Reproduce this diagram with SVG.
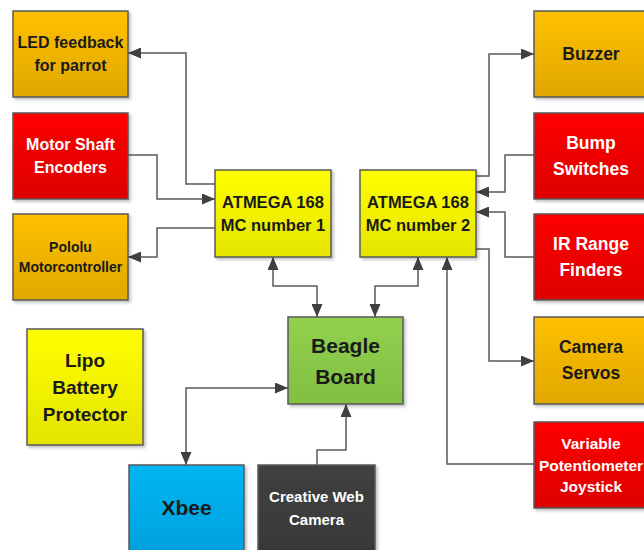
<svg xmlns="http://www.w3.org/2000/svg" width="644" height="550" viewBox="0 0 644 550">
<defs>
<linearGradient id="gOr" x1="0" y1="0" x2="0" y2="1"><stop offset="0" stop-color="#FFC000"/><stop offset="1" stop-color="#E0A800"/></linearGradient>
<linearGradient id="gRd" x1="0" y1="0" x2="0" y2="1"><stop offset="0" stop-color="#FF0000"/><stop offset="1" stop-color="#DD0000"/></linearGradient>
<linearGradient id="gYe" x1="0" y1="0" x2="0" y2="1"><stop offset="0" stop-color="#FFFF00"/><stop offset="1" stop-color="#E4E400"/></linearGradient>
<linearGradient id="gGr" x1="0" y1="0" x2="0" y2="1"><stop offset="0" stop-color="#92D050"/><stop offset="1" stop-color="#80C040"/></linearGradient>
<linearGradient id="gBl" x1="0" y1="0" x2="0" y2="1"><stop offset="0" stop-color="#00B6F2"/><stop offset="1" stop-color="#009FDC"/></linearGradient>
<linearGradient id="gDk" x1="0" y1="0" x2="0" y2="1"><stop offset="0" stop-color="#404040"/><stop offset="1" stop-color="#383838"/></linearGradient>
<marker id="ah" viewBox="0 0 13 11" refX="13" refY="5.5" markerWidth="13" markerHeight="11" markerUnits="userSpaceOnUse" orient="auto-start-reverse">
<path d="M0,0 L13,5.5 L0,11 Z" fill="#404040"/>
</marker>
<filter id="sh" x="-10%" y="-10%" width="130%" height="130%"><feDropShadow dx="2" dy="2" stdDeviation="1.5" flood-color="#000" flood-opacity="0.25"/></filter>
</defs>
<style>
.box{stroke:#595959;stroke-width:1.5;filter:url(#sh)}
.t{font-family:"Liberation Sans",Arial,sans-serif;font-weight:bold;text-anchor:middle}
.dk{fill:#1a1a1a}
.wh{fill:#ffffff}
.c{fill:none;stroke:#5a5a5a;stroke-width:1.5}
</style>
<g id="connectors">
<polyline class="c" points="215,184 186,184 186,53 128,53" marker-end="url(#ah)"/>
<polyline class="c" points="128,155 157,155 157,199 215,199" marker-end="url(#ah)"/>
<polyline class="c" points="215,228 157,228 157,257 128,257" marker-end="url(#ah)"/>
<polyline class="c" points="273,257 273,286 317,286 317,317" marker-start="url(#ah)" marker-end="url(#ah)"/>
<polyline class="c" points="418,257 418,286 375,286 375,317" marker-start="url(#ah)" marker-end="url(#ah)"/>
<polyline class="c" points="534,464 447,464 447,257" marker-end="url(#ah)"/>
<polyline class="c" points="476,176 489,176 489,54 534,54" marker-end="url(#ah)"/>
<polyline class="c" points="534,155 505,155 505,192 476,192" marker-end="url(#ah)"/>
<polyline class="c" points="534,257 505,257 505,212 476,212" marker-end="url(#ah)"/>
<polyline class="c" points="476,249 489,249 489,361 534,361" marker-end="url(#ah)"/>
<polyline class="c" points="288,388 186,388 186,465" marker-start="url(#ah)" marker-end="url(#ah)"/>
<polyline class="c" points="317,465 317,450 346,450 346,404" marker-end="url(#ah)"/>
</g>
<g id="led">
<rect class="box" x="13" y="11" width="115" height="86" fill="url(#gOr)"/>
<text class="t dk" x="70.5" y="48" font-size="16">LED feedback</text>
<text class="t dk" x="70.5" y="71" font-size="16">for parrot</text>
</g>
<g id="motor">
<rect class="box" x="13" y="113" width="115" height="86" fill="url(#gRd)"/>
<text class="t wh" x="70.5" y="150" font-size="16">Motor Shaft</text>
<text class="t wh" x="70.5" y="173" font-size="16">Encoders</text>
</g>
<g id="pololu">
<rect class="box" x="13" y="214" width="115" height="86" fill="url(#gOr)"/>
<text class="t dk" x="70.5" y="252" font-size="14">Pololu</text>
<text class="t dk" x="70.5" y="272" font-size="14">Motorcontroller</text>
</g>
<g id="lipo">
<rect class="box" x="27" y="329" width="116" height="116" fill="url(#gYe)"/>
<text class="t dk" x="85" y="367" font-size="19">Lipo</text>
<text class="t dk" x="85" y="394" font-size="19">Battery</text>
<text class="t dk" x="85" y="421" font-size="19">Protector</text>
</g>
<g id="atmega1">
<rect class="box" x="215" y="170" width="116" height="87" fill="url(#gYe)"/>
<text class="t dk" x="273" y="208" font-size="16.5">ATMEGA 168</text>
<text class="t dk" x="273" y="231" font-size="16.5">MC number 1</text>
</g>
<g id="atmega2">
<rect class="box" x="360" y="170" width="116" height="87" fill="url(#gYe)"/>
<text class="t dk" x="418" y="208" font-size="16.5">ATMEGA 168</text>
<text class="t dk" x="418" y="231" font-size="16.5">MC number 2</text>
</g>
<g id="beagle">
<rect class="box" x="288" y="317" width="115" height="87" fill="url(#gGr)"/>
<text class="t dk" x="345.5" y="353" font-size="21">Beagle</text>
<text class="t dk" x="345.5" y="384" font-size="21">Board</text>
</g>
<g id="xbee">
<rect class="box" x="129" y="465" width="115" height="95" fill="url(#gBl)"/>
<text class="t dk" x="186.5" y="515" font-size="21">Xbee</text>
</g>
<g id="webcam">
<rect class="box" x="258" y="465" width="117" height="95" fill="url(#gDk)"/>
<text class="t wh" x="316.5" y="502" font-size="15">Creative Web</text>
<text class="t wh" x="316.5" y="525" font-size="15">Camera</text>
</g>
<g id="buzzer">
<rect class="box" x="534" y="11" width="116" height="86" fill="url(#gOr)"/>
<text class="t dk" x="591" y="60" font-size="17.5">Buzzer</text>
</g>
<g id="bump">
<rect class="box" x="534" y="113" width="116" height="86" fill="url(#gRd)"/>
<text class="t wh" x="591" y="149" font-size="17.5">Bump</text>
<text class="t wh" x="591" y="175" font-size="17.5">Switches</text>
</g>
<g id="ir">
<rect class="box" x="534" y="214" width="116" height="86" fill="url(#gRd)"/>
<text class="t wh" x="591" y="250" font-size="17.5">IR Range</text>
<text class="t wh" x="591" y="276" font-size="17.5">Finders</text>
</g>
<g id="servos">
<rect class="box" x="534" y="317" width="116" height="87" fill="url(#gOr)"/>
<text class="t dk" x="591" y="353" font-size="17.5">Camera</text>
<text class="t dk" x="591" y="379" font-size="17.5">Servos</text>
</g>
<g id="joystick">
<rect class="box" x="534" y="422" width="116" height="86" fill="url(#gRd)"/>
<text class="t wh" x="591" y="449" font-size="15.5">Variable</text>
<text class="t wh" x="591" y="471" font-size="15.5">Potentiometer</text>
<text class="t wh" x="591" y="492" font-size="15.5">Joystick</text>
</g>
</svg>
